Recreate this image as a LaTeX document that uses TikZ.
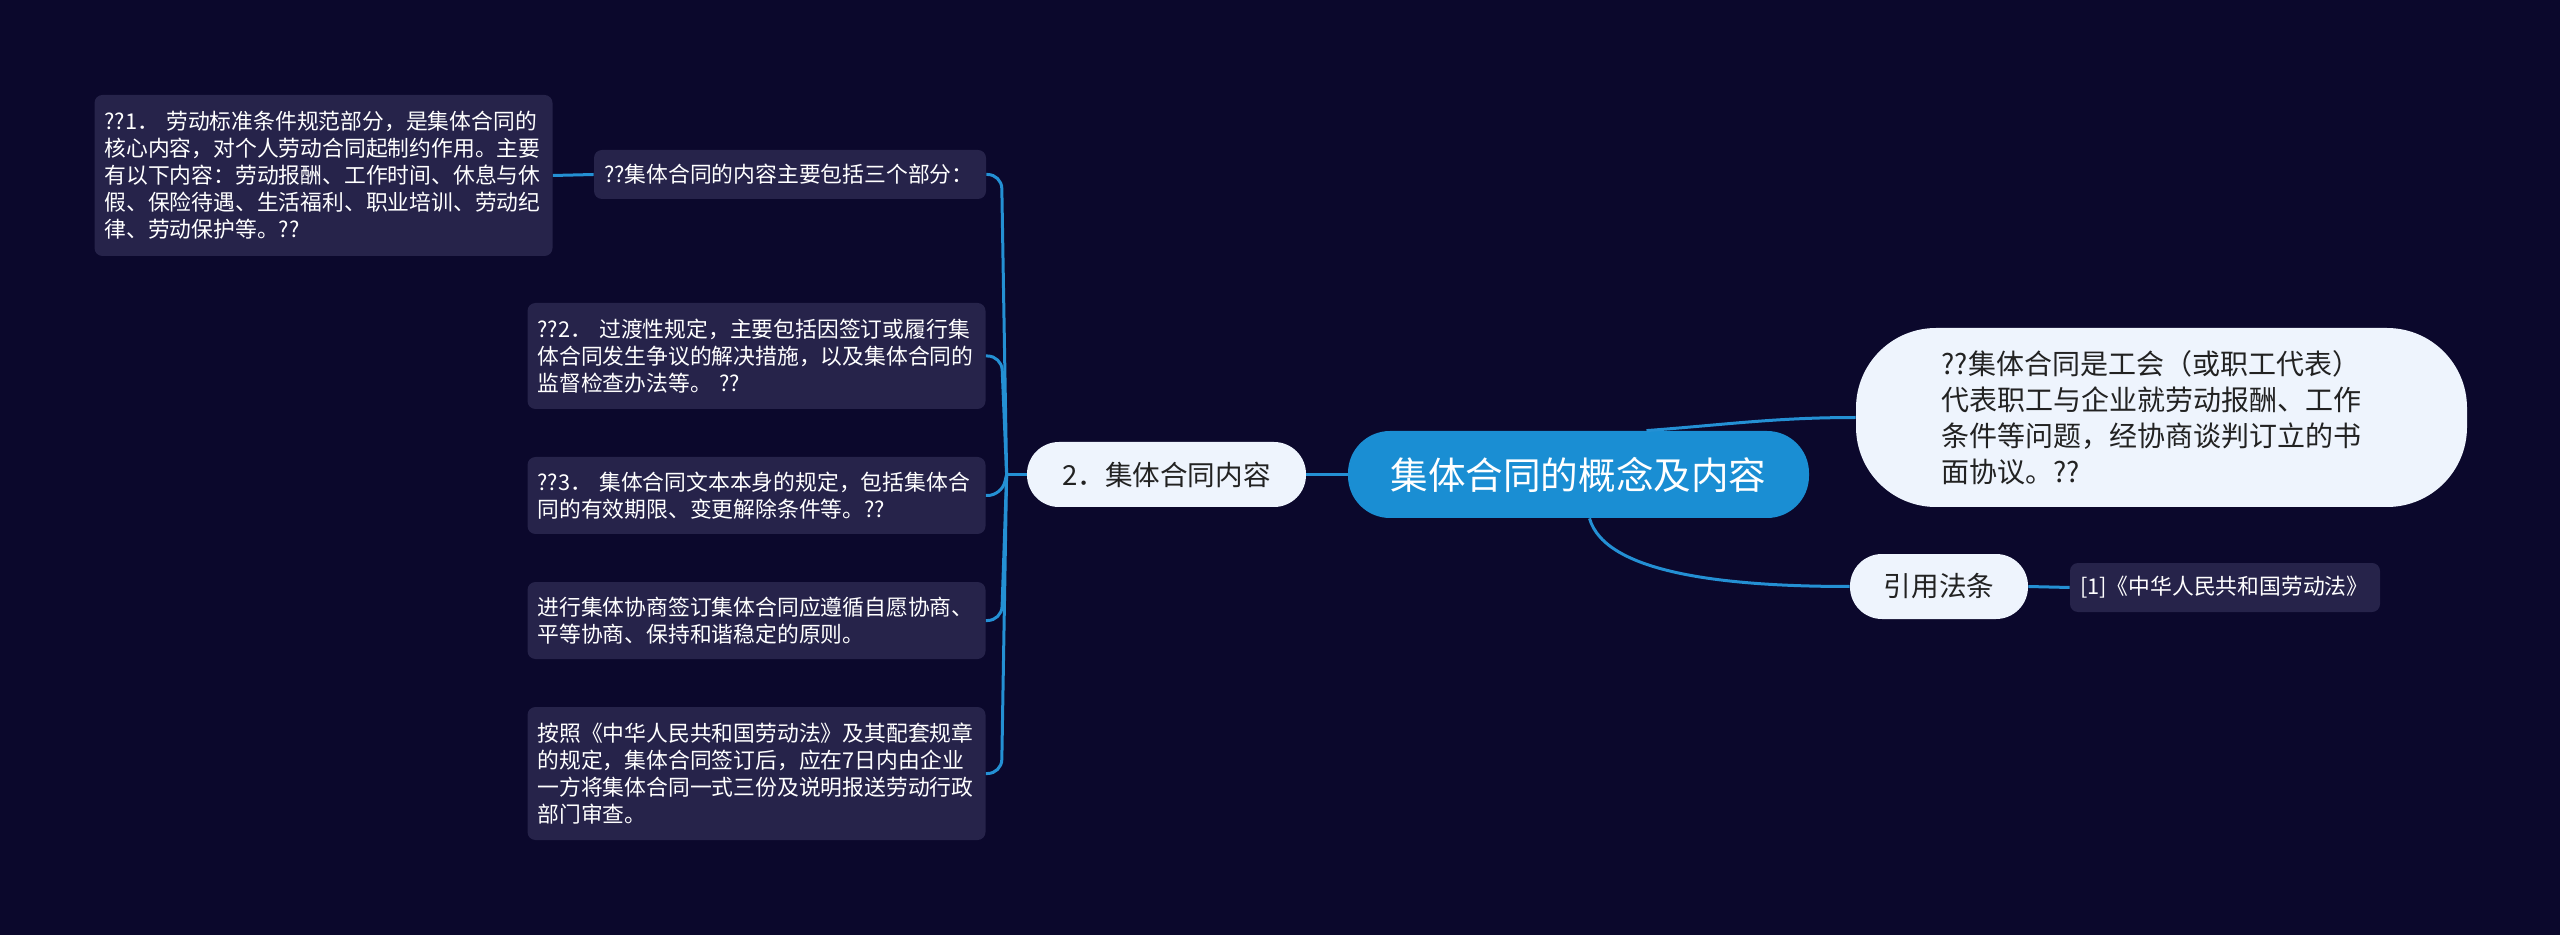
\documentclass[tikz,border=0pt]{standalone}
\usepackage{fontspec}
\setmainfont{Noto Sans CJK SC}

\definecolor{bgnavy}{RGB}{11,8,44}
\definecolor{boxpurple}{RGB}{38,35,74}
\definecolor{linkblue}{RGB}{36,144,212}
\definecolor{rootblue}{RGB}{26,142,211}
\definecolor{pillwhite}{RGB}{238,244,253}
\definecolor{pilltext}{RGB}{34,34,34}

\begin{document}
\begin{tikzpicture}[x=0.5pt,y=-0.5pt,
  leaf/.style={fill=boxpurple,text=white,rounded corners=4pt,align=left,
    inner xsep=5pt,inner ysep=0pt,font=\fontsize{10.9pt}{13.5pt}\selectfont},
  pill/.style={fill=pillwhite,text=pilltext,rounded corners=16pt,inner sep=0pt,
    minimum height=32.5pt,font=\fontsize{13.8pt}{16pt}\selectfont},
  link/.style={draw=linkblue,line width=1.5pt}]

  \fill[bgnavy] (0,0) rectangle (2560,935);

  \node[fill=rootblue,text=white,rounded corners=21pt,minimum width=230.5pt,
    minimum height=43.5pt,inner sep=0pt,font=\fontsize{18.8pt}{22pt}\selectfont]
    (root) at (1578.5,474.5) {集体合同的概念及内容};

  \node[pill,minimum width=139.5pt] (cat) at (1166.5,474.5) {2．集体合同内容};
  \node[pill,minimum width=89pt] (ref) at (1939,586.5) {引用法条};

  \node[pill,rounded corners=40pt,minimum width=305.5pt,minimum height=89.5pt,
    text width=220pt,align=left,font=\fontsize{14pt}{18pt}\selectfont]
    (defn) at (2161.5,417.5)
    {??集体合同是工会（或职工代表）\\代表职工与企业就劳动报酬、工作\\条件等问题，经协商谈判订立的书\\面协议。??};

  \node[leaf,text width=145pt,minimum height=24.5pt] (lawbox) at (2225,587.5)
    {[1]《中华人民共和国劳动法》};

  \node[leaf,text width=186pt,minimum height=24.5pt] (parts) at (790,174.5)
    {??集体合同的内容主要包括三个部分：};
  \node[leaf,text width=219pt,minimum height=80.5pt] (labor) at (323.5,175.5)
    {??1． 劳动标准条件规范部分，是集体合同的\\核心内容，对个人劳动合同起制约作用。主要\\有以下内容：劳动报酬、工作时间、休息与休\\假、保险待遇、生活福利、职业培训、劳动纪\\律、劳动保护等。??};
  \node[leaf,text width=219pt,minimum height=53pt] (transit) at (756.5,356)
    {??2． 过渡性规定，主要包括因签订或履行集\\体合同发生争议的解决措施，以及集体合同的\\监督检查办法等。 ??};
  \node[leaf,text width=219pt,minimum height=38.5pt] (textrule) at (756.5,495.5)
    {??3． 集体合同文本本身的规定，包括集体合\\同的有效期限、变更解除条件等。??};
  \node[leaf,text width=219pt,minimum height=38.5pt] (principle) at (756.5,620.5)
    {进行集体协商签订集体合同应遵循自愿协商、\\平等协商、保持和谐稳定的原则。};
  \node[leaf,text width=219pt,minimum height=66.5pt] (filing) at (756.5,773.5)
    {按照《中华人民共和国劳动法》及其配套规章\\的规定，集体合同签订后，应在7日内由企业\\一方将集体合同一式三份及说明报送劳动行政\\部门审查。};

  \draw[link] (root.west) -- (cat.east);
  \draw[link] (cat.west) -- ++(-10pt,0pt) coordinate (fork);
  \foreach \n in {parts,transit,textrule,principle,filing}
    \draw[link,rounded corners=7pt] (fork) -- ([xshift=-2.5pt]fork |- \n.east) -- (\n.east);
  \draw[link] (labor.east) -- (parts.west);

  \draw[link] ([xshift=34pt]root.north) .. controls +(40pt,3pt) and +(-40pt,0pt) .. (defn.west);
  \draw[link] ([xshift=5.5pt]root.south) .. controls +(8pt,-28pt) and +(-60pt,0pt) .. (ref.west);
  \draw[link] (ref.east) -- (lawbox.west);
\end{tikzpicture}
\end{document}
